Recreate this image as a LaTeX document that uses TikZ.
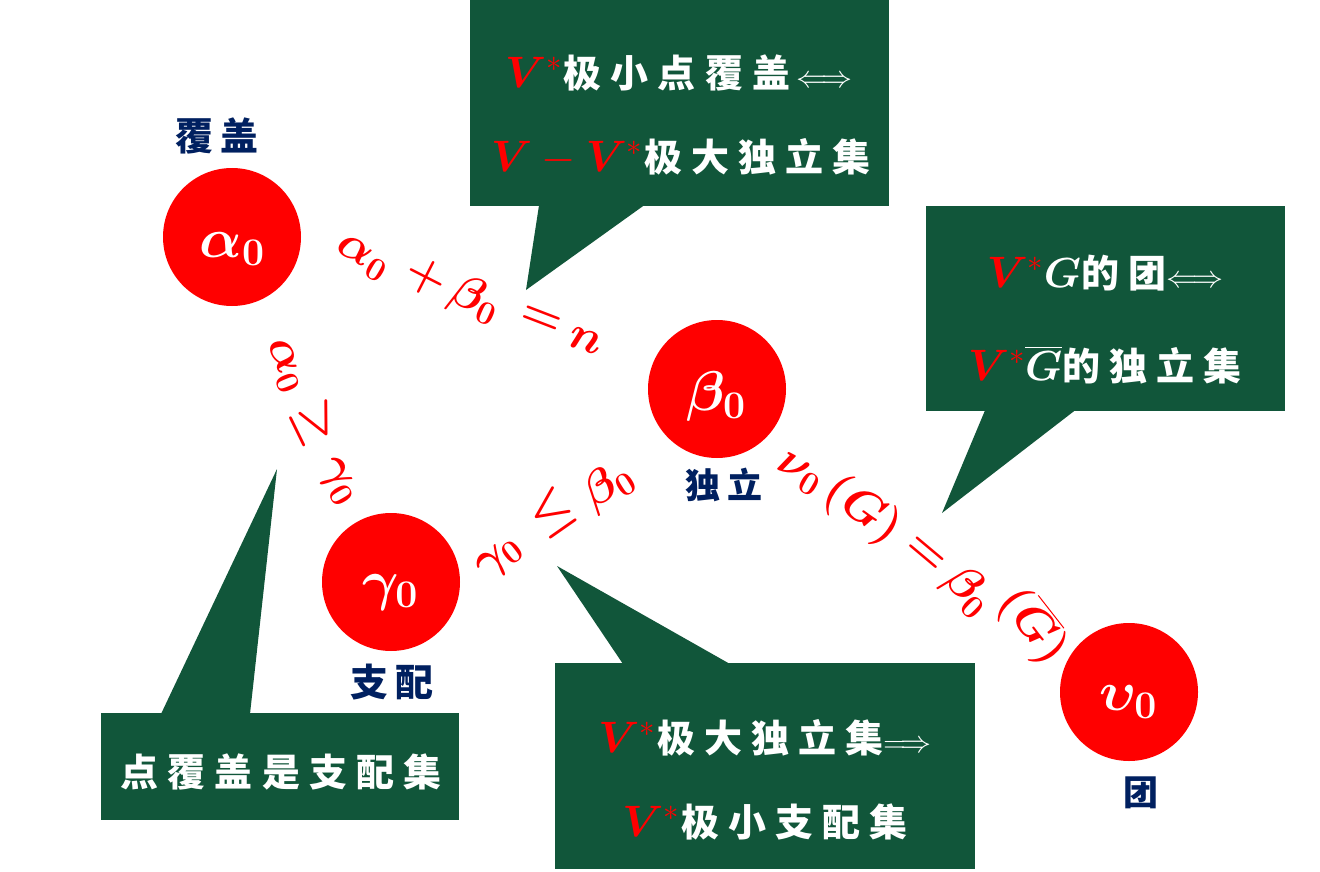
\documentclass[tikz,border=0pt]{standalone}
\usepackage{fix-cm}
\usepackage{amsmath,bm}
\usepackage{fontspec}
\newfontfamily\cjkw{Noto Sans CJK SC}[LetterSpace=24]
\newfontfamily\cjkn{Noto Sans CJK SC}[LetterSpace=20]
\usetikzlibrary{calc}
\definecolor{cgreen}{RGB}{17,86,58}
\definecolor{navy}{RGB}{0,32,96}
\newcommand\Vs{{\fontsize{44}{50}\selectfont\color{red}$\bm{V}^{*}$}}
\newcommand\Vm{{\fontsize{44}{50}\selectfont\color{red}$\bm{V}-\bm{V}^{*}$}}
\newcommand\cj[1]{{\cjkw\bfseries\fontsize{38}{44}\selectfont #1}}
\newcommand\arr[1]{{\fontsize{31}{36}\selectfont$#1$}}
\newcommand\mw[1]{{\fontsize{42}{48}\selectfont$\bm{#1}$}}
\tikzset{
  ball/.style={circle, fill=red, minimum size=138pt, inner sep=0pt},
  balltxt/.style={text=white, font=\fontsize{56}{64}\selectfont\boldmath, inner sep=0pt},
  cbox/.style={fill=cgreen, inner sep=0pt, anchor=north west},
  ctext/.style={text=white, inner sep=0pt},
  tail/.style={fill=cgreen},
  lab/.style={text=red, font=\fontsize{47}{56}\selectfont\boldmath, inner sep=0pt},
  nlab/.style={text=navy, font=\cjkn\bfseries\fontsize{38}{44}\selectfont, inner sep=0pt},
  nlabs/.style={text=navy, font=\cjkn\bfseries\fontsize{35}{40}\selectfont, inner sep=0pt}
}
\newcommand\wg[5]{%
  \node[lab, rotate=#4] (#1) at (#2,#3) {$#5$};}
\newcommand\bt[4]{%
  \node[balltxt] (#1) at (#2,#3) {$#4$};}
\begin{document}
\begin{tikzpicture}[x=1pt,y=-1pt]
\fill[white] (0,0) rectangle (1320,872);
\useasboundingbox (0,0) rectangle (1320,872);

% callout boxes
\node[cbox, minimum width=419pt, minimum height=206pt] (c1) at (470,0) {};
\node[cbox, minimum width=359pt, minimum height=205pt] (c2) at (926,206) {};
\node[cbox, minimum width=358pt, minimum height=107pt] (c3) at (101,713) {};
\node[cbox, minimum width=420pt, minimum height=206pt] (c4) at (555,663) {};
\coordinate (t1) at (526,290);
\coordinate (t2) at (942,513);
\coordinate (t3) at (277,469);
\coordinate (t4) at (557,566);
\fill[tail] ($(c1.south west)+(69,-1)$) -- (t1) -- ($(c1.south west)+(174,-1)$) -- cycle;
\fill[tail] ($(c2.south west)+(59,-1)$) -- (t2) -- ($(c2.south west)+(149,-1)$) -- cycle;
\fill[tail] ($(c3.north west)+(60,1)$) -- (t3) -- ($(c3.north west)+(149,1)$) -- cycle;
\fill[tail] ($(c4.north west)+(68,1)$) -- (t4) -- ($(c4.north west)+(175,1)$) -- cycle;

% callout texts
\node[ctext] (c1a) at (679,73) {\Vs\,\cj{极小点覆盖}\hspace{6pt}\arr{\Longleftrightarrow}};
\node[ctext] (c1b) at (681,157) {\Vm\,\cj{极大独立集}};
\node[ctext] (c2a) at (1105,273) {\Vs\mw{G}\cj{的团}\arr{\Longleftrightarrow}};
\node[ctext] (c2b) at (1105,365) {\Vs\mw{\overline{G}}\cj{的独立集}};
\node[ctext] (c3a) at (281,772) {\cj{点覆盖是支配集}};
\node[ctext] (c4a) at (765,738) {\Vs\,\cj{极大独立集}\arr{\Longrightarrow}};
\node[ctext] (c4b) at (765,822) {\Vs\,\cj{极小支配集}};

% balls
\node[ball] (a) at (232,237) {};
\node[ball] (b) at (717,389) {};
\node[ball] (g) at (391,582) {};
\node[ball] (u) at (1129,692) {};
\bt{at}{232}{249}{\alpha_0}
\bt{bt}{716}{396}{\beta_0}
\bt{gt}{390}{592}{\gamma_0}
\bt{ut}{1128}{702}{\upsilon_0}

% navy labels
\node[nlab] (la) at (217,136) {覆盖};
\node[nlab] (lg) at (392,682) {支配};
\node[nlabs] (lb) at (724,485) {独立};
\node[nlabs] (lu) at (1141,793) {团};

% curved red labels
\wg{p1}{362}{258}{-30}{\alpha_0}
\wg{p2}{426}{277}{-27}{+}
\wg{p3}{475}{300}{-24}{\beta_0}
\wg{p4}{541}{320}{-21}{=}
\wg{p5}{586}{341}{-18}{n}

\wg{q1}{284}{366}{-68}{\alpha_0}
\wg{q2}{315}{423}{-64}{\geq}
\wg{q3}{337}{482}{-60}{\gamma_0}

\wg{r1}{500}{559}{38}{\gamma_0}
\wg{r2}{552}{513}{35}{\leq}
\wg{r3}{608}{486}{32}{\beta_0}

\wg{s1}{799}{474}{-30}{\nu_0}
\wg{s2}{862}{511}{-35}{(G)}
\wg{s3}{925}{555}{-40}{=}
\wg{s4}{968}{591}{-45}{\beta_0}
\wg{s5}{1033}{626}{-52}{(\overline{G})}
\end{tikzpicture}
\end{document}
